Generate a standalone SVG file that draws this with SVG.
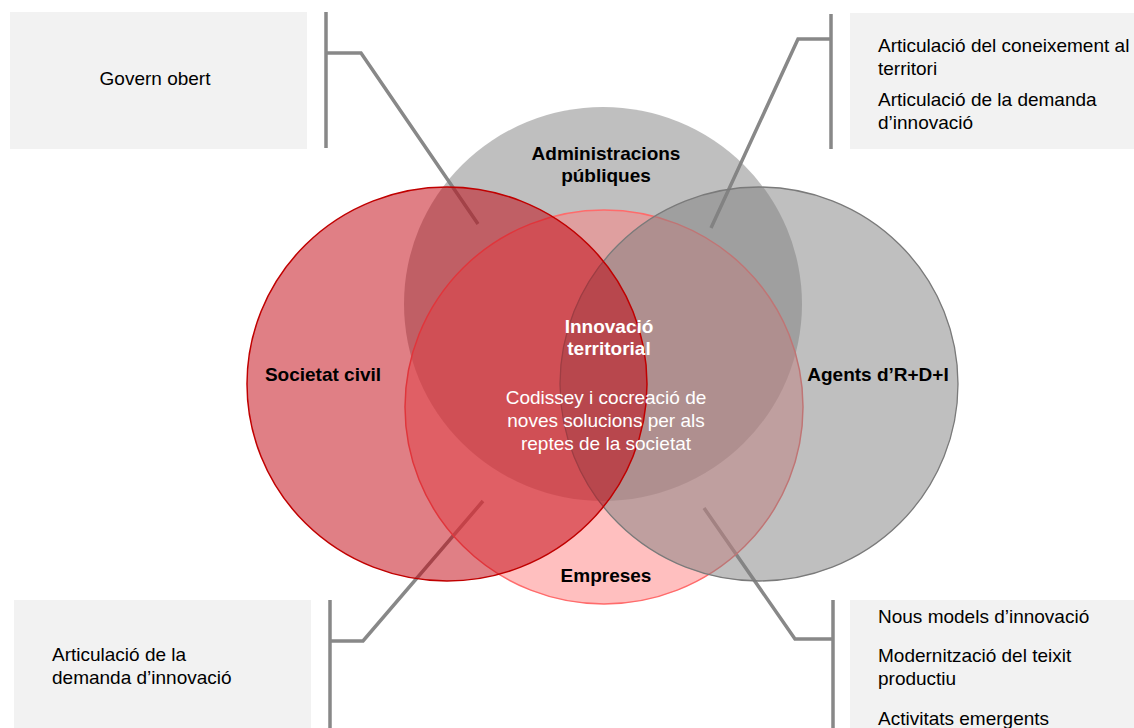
<svg xmlns="http://www.w3.org/2000/svg" width="1134" height="728" viewBox="0 0 1134 728">
  <style>
    .box { fill: #F2F2F2; }
    .conn { fill: none; stroke: #888888; stroke-width: 3.5; stroke-linejoin: miter; }
    .t { font-family: "Liberation Sans", Arial, sans-serif; font-size: 19px; fill: #000; }
    .b { font-weight: bold; }
    .c { text-anchor: middle; }
    .w { fill: #FFFFFF; }
  </style>
  <rect width="1134" height="728" fill="#FFFFFF"/>

  <g id="box-govern-obert">
    <rect class="box" x="10" y="12" width="297" height="137"/>
    <text class="t c" x="155" y="85">Govern obert</text>
  </g>
  <g id="box-coneixement">
    <rect class="box" x="850" y="13" width="284" height="136"/>
    <text class="t" x="878" y="52">Articulació del coneixement al</text>
    <text class="t" x="878" y="75">territori</text>
    <text class="t" x="878" y="106">Articulació de la demanda</text>
    <text class="t" x="878" y="129">d’innovació</text>
  </g>
  <g id="box-demanda">
    <rect class="box" x="14" y="600" width="297" height="128"/>
    <text class="t" x="52" y="661">Articulació de la</text>
    <text class="t" x="52" y="684">demanda d’innovació</text>
  </g>
  <g id="box-models">
    <rect class="box" x="850" y="600" width="284" height="128"/>
    <text class="t" x="878" y="623">Nous models d’innovació</text>
    <text class="t" x="878" y="662">Modernització del teixit</text>
    <text class="t" x="878" y="685">productiu</text>
    <text class="t" x="878" y="725">Activitats emergents</text>
  </g>

  <g id="connectors">
    <path class="conn" d="M326,12 V148 M326,53 H361 L478,224"/>
    <path class="conn" d="M831,14 V149 M831,39 H798 L711,228"/>
    <path class="conn" d="M330,600 V728 M330,641 H363 L483,501"/>
    <path class="conn" d="M833,600 V728 M833,639 H795 L704,508"/>
  </g>

  <g id="administracions">
    <ellipse cx="603" cy="304" rx="199" ry="197" fill="#808080" fill-opacity="0.5"/>
  </g>
  <g id="empreses">
    <ellipse cx="604" cy="407" rx="199" ry="197" fill="#FF8080" fill-opacity="0.5" stroke="#FF6B6B" stroke-width="1.5"/>
  </g>
  <g id="agents">
    <ellipse cx="759" cy="384" rx="199" ry="197" fill="#808080" fill-opacity="0.5" stroke="#7A7A7A" stroke-width="1.3"/>
  </g>
  <g id="societat">
    <ellipse cx="447" cy="384" rx="200" ry="197" fill="#C1000B" fill-opacity="0.5" stroke="#C00000" stroke-width="1.5"/>
  </g>

  <g id="labels">
    <text class="t b c" x="606" y="160">Administracions</text>
    <text class="t b c" x="606" y="182">públiques</text>
    <text class="t b c" x="323" y="381">Societat civil</text>
    <text class="t b c" x="878" y="381">Agents d’R+D+I</text>
    <text class="t b c" x="606" y="582">Empreses</text>
  </g>
  <g id="innovacio">
    <text class="t b c w" x="609" y="333">Innovació</text>
    <text class="t b c w" x="609" y="355">territorial</text>
    <text class="t c w" x="606" y="404">Codissey i cocreació de</text>
    <text class="t c w" x="606" y="427">noves solucions per als</text>
    <text class="t c w" x="606" y="450">reptes de la societat</text>
  </g>
</svg>
